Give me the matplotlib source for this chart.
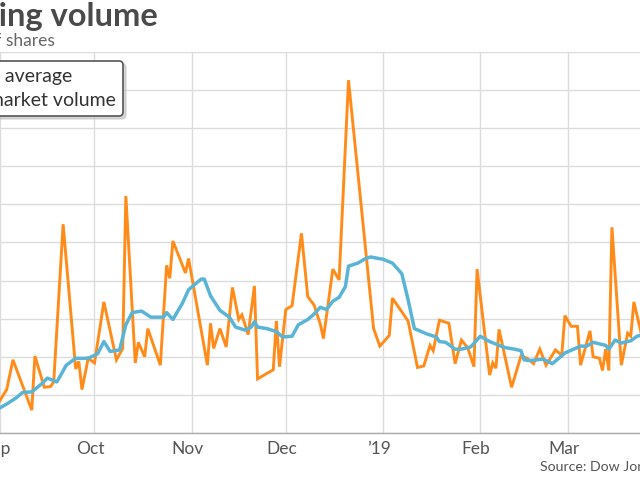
import matplotlib
matplotlib.use("Agg")
import matplotlib.pyplot as plt
import matplotlib.transforms as mtransforms
import numpy as np
import pandas as pd

# Daily market volume, billions of shares
volume_dates = [
    "2018-08-31", "2018-09-03", "2018-09-05", "2018-09-11", "2018-09-12", "2018-09-15",
    "2018-09-17", "2018-09-18", "2018-09-21", "2018-09-25", "2018-09-26", "2018-09-27",
    "2018-09-29", "2018-10-01", "2018-10-04", "2018-10-08", "2018-10-10", "2018-10-11",
    "2018-10-14", "2018-10-15", "2018-10-17", "2018-10-18", "2018-10-22", "2018-10-24",
    "2018-10-25", "2018-10-26", "2018-10-30", "2018-10-31", "2018-11-06", "2018-11-07",
    "2018-11-08", "2018-11-10", "2018-11-12", "2018-11-14", "2018-11-16", "2018-11-17",
    "2018-11-19", "2018-11-21", "2018-11-22", "2018-11-27", "2018-11-28", "2018-11-29",
    "2018-12-01", "2018-12-03", "2018-12-06", "2018-12-08", "2018-12-10", "2018-12-12",
    "2018-12-13", "2018-12-16", "2018-12-18", "2018-12-21", "2018-12-29", "2018-12-31",
    "2019-01-03", "2019-01-04", "2019-01-09", "2019-01-12", "2019-01-14", "2019-01-16",
    "2019-01-17", "2019-01-19", "2019-01-22", "2019-01-24", "2019-01-26", "2019-01-28",
    "2019-01-30", "2019-01-31", "2019-02-04", "2019-02-05", "2019-02-06", "2019-02-07",
    "2019-02-11", "2019-02-14", "2019-02-16", "2019-02-18", "2019-02-20", "2019-02-22",
    "2019-02-25", "2019-02-27", "2019-02-28", "2019-03-02", "2019-03-04", "2019-03-05",
    "2019-03-08", "2019-03-09", "2019-03-11", "2019-03-12", "2019-03-13", "2019-03-14",
    "2019-03-15", "2019-03-18", "2019-03-20", "2019-03-21", "2019-03-22", "2019-03-25",
]
volume_values = [
    2.37, 2.57, 2.96, 2.30, 3.01, 2.60, 2.61, 2.67, 4.74, 2.84,
    2.94, 2.57, 2.98, 2.92, 3.72, 2.96, 3.11, 5.11, 2.92, 3.19,
    3.00, 3.37, 2.89, 4.20, 4.03, 4.52, 4.10, 4.29, 2.89, 3.44,
    3.11, 3.37, 3.13, 3.91, 3.49, 3.55, 3.29, 3.93, 2.71, 2.83,
    3.47, 2.87, 3.62, 3.67, 4.62, 3.79, 3.68, 3.43, 3.24, 4.15,
    4.01, 6.63, 3.37, 3.14, 3.28, 3.77, 3.47, 2.86, 2.88, 3.15,
    3.08, 3.48, 3.44, 2.91, 3.22, 3.12, 2.87, 4.15, 2.76, 2.92,
    2.85, 3.36, 2.60, 3.01, 2.98, 2.91, 3.10, 2.89, 3.09, 3.02,
    3.54, 3.40, 3.40, 2.89, 3.34, 3.00, 2.98, 2.82, 3.10, 2.82,
    4.70, 2.89, 3.31, 3.27, 3.72, 3.19,
]

# 50-day average
avg_dates = [
    "2018-08-31", "2018-09-03", "2018-09-06", "2018-09-08", "2018-09-11", "2018-09-14",
    "2018-09-16", "2018-09-19", "2018-09-22", "2018-09-25", "2018-09-29", "2018-10-02",
    "2018-10-04", "2018-10-06", "2018-10-09", "2018-10-11", "2018-10-13", "2018-10-16",
    "2018-10-19", "2018-10-23", "2018-10-24", "2018-10-26", "2018-10-29", "2018-10-31",
    "2018-11-04", "2018-11-05", "2018-11-07", "2018-11-10", "2018-11-13", "2018-11-15",
    "2018-11-18", "2018-11-20", "2018-11-21", "2018-11-22", "2018-11-25", "2018-11-28",
    "2018-11-30", "2018-12-03", "2018-12-05", "2018-12-08", "2018-12-10", "2018-12-12",
    "2018-12-14", "2018-12-16", "2018-12-18", "2018-12-20", "2018-12-21", "2018-12-24",
    "2018-12-26", "2018-12-28", "2019-01-01", "2019-01-04", "2019-01-07", "2019-01-09",
    "2019-01-11", "2019-01-15", "2019-01-18", "2019-01-19", "2019-01-21", "2019-01-24",
    "2019-01-26", "2019-01-29", "2019-02-01", "2019-02-04", "2019-02-07", "2019-02-09",
    "2019-02-12", "2019-02-14", "2019-02-15", "2019-02-17", "2019-02-21", "2019-02-24",
    "2019-02-28", "2019-03-05", "2019-03-07", "2019-03-09", "2019-03-13", "2019-03-14",
    "2019-03-16", "2019-03-18", "2019-03-21", "2019-03-23", "2019-03-25",
]
avg_values = [
    2.31, 2.38, 2.46, 2.53, 2.54, 2.64, 2.72, 2.67, 2.89, 2.98,
    2.98, 3.04, 3.20, 3.07, 3.09, 3.42, 3.58, 3.60, 3.52, 3.52,
    3.58, 3.49, 3.70, 3.88, 4.02, 4.02, 3.80, 3.61, 3.52, 3.39,
    3.35, 3.39, 3.46, 3.39, 3.37, 3.33, 3.26, 3.27, 3.42, 3.49,
    3.56, 3.65, 3.62, 3.73, 3.78, 3.92, 4.19, 4.23, 4.28, 4.31,
    4.28, 4.23, 4.09, 3.75, 3.37, 3.30, 3.26, 3.20, 3.19, 3.10,
    3.10, 3.13, 3.27, 3.20, 3.15, 3.12, 3.10, 3.08, 2.96, 2.95,
    2.97, 2.91, 3.05, 3.14, 3.14, 3.19, 3.15, 3.10, 3.22, 3.18,
    3.21, 3.27, 3.29,
]

month_ticks = ["2018-09-01", "2018-10-01", "2018-11-01", "2018-12-01",
               "2019-01-01", "2019-02-01", "2019-03-01"]
month_labels = ["Sep", "Oct", "Nov", "Dec", "\u201919", "Feb", "Mar"]

ORANGE = "#ff8c1a"
BLUE = "#5ab4d6"

plt.rcParams["font.family"] = ["Lato", "DejaVu Sans"]

fig = plt.figure(figsize=(6.4, 4.8), dpi=100)
ax = fig.add_axes([0, 47 / 480, 1, 381 / 480])

ax.plot(pd.to_datetime(volume_dates), volume_values, color=ORANGE, lw=2.1,
        solid_joinstyle="miter", label="Total market volume", zorder=3)
ax.plot(pd.to_datetime(avg_dates), avg_values, color=BLUE, lw=2.5,
        solid_joinstyle="round", label="50-day average", zorder=4)

oct1 = pd.Timestamp("2018-10-01")
ax.set_xlim(oct1 - pd.Timedelta(days=30.13), oct1 + pd.Timedelta(days=173.95))
ax.set_ylim(2.0, 7.0)

ax.set_yticks(np.arange(2.0, 7.01, 0.5))
ax.set_xticks(pd.to_datetime(month_ticks))
ax.set_xticklabels(month_labels)
ax.grid(True, color="#dcdcdc", lw=1.0)
ax.set_axisbelow(True)
ax.tick_params(axis="y", left=False, labelleft=False)
ax.tick_params(axis="x", length=0, pad=6, labelsize=12.5, colors="#555555")

# month labels sit a touch left of their gridlines
shift = mtransforms.ScaledTranslation(-4 / 100, 0, fig.dpi_scale_trans)
for lbl in ax.get_xticklabels():
    lbl.set_transform(lbl.get_transform() + shift)

for side in ["top", "left", "right"]:
    ax.spines[side].set_visible(False)
ax.spines["bottom"].set_color("#aaaaaa")
ax.spines["bottom"].set_linewidth(1.0)

handles, labels = ax.get_legend_handles_labels()
leg = fig.legend(handles[::-1], labels[::-1], loc="upper right",
                 bbox_to_anchor=(123 / 640, 1 - 61 / 480), borderaxespad=0,
                 fancybox=True, shadow={"color": "0.75", "alpha": 0.6},
                 framealpha=1, edgecolor="#555555", fontsize=14,
                 labelcolor="#333333", labelspacing=0.32, borderpad=0.38,
                 handlelength=1.5)
leg.get_frame().set_linewidth(1.2)

fig.text(158 / 640, 1 - 26 / 480, "Trading volume", ha="right", va="baseline",
         fontsize=23.5, fontweight="bold", color="#4a4a4a")
fig.text(55 / 640, 1 - 46 / 480, "Billions of shares", ha="right", va="baseline",
         fontsize=12.5, color="#666666")
fig.text(540 / 640, 1 - 471 / 480, "Source: Dow Jones Market Data", ha="left",
         va="baseline", fontsize=10.2, color="#555555")

fig.savefig("out.png", dpi=100)
